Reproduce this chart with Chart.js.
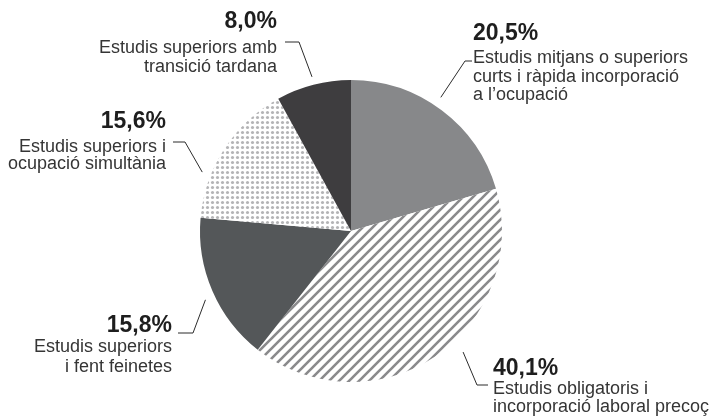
<!DOCTYPE html>
<html>
<head>
<meta charset="utf-8">
<script src="https://cdn.jsdelivr.net/npm/chart.js@4.4.0/dist/chart.umd.min.js"></script>
<style>
  body { margin: 0; background: #fff; }
  #wrap { width: 714px; height: 419px; }
</style>
</head>
<body>
<div id="wrap"><canvas id="pieChart" width="714" height="419"></canvas></div>
<script>
// dades
const percentLabels = ['20,5%', '40,1%', '15,8%', '15,6%', '8,0%'];
const shares = [20.5, 40.1, 15.8, 15.6, 8.0];
const descriptions = [
    ['Estudis mitjans o superiors', 'curts i ràpida incorporació', 'a l\u2019ocupació'],
    ['Estudis obligatoris i', 'incorporació laboral precoç'],
    ['Estudis superiors', 'i fent feinetes'],
    ['Estudis superiors i', 'ocupació simultània'],
    ['Estudis superiors amb', 'transició tardana']
];

// patrons
function stripePattern() {
    const c = document.createElement('canvas');
    c.width = 10; c.height = 10;
    const g = c.getContext('2d');
    g.fillStyle = '#fff';
    g.fillRect(0, 0, 10, 10);
    g.strokeStyle = '#8a8a8c';
    g.lineWidth = 2.6;
    g.beginPath();
    g.moveTo(-2, 12); g.lineTo(12, -2);
    g.moveTo(-7, 7); g.lineTo(7, -7);
    g.moveTo(3, 17); g.lineTo(17, 3);
    g.stroke();
    return g.createPattern(c, 'repeat');
}
function dotPattern() {
    const c = document.createElement('canvas');
    c.width = 5; c.height = 5;
    const g = c.getContext('2d');
    g.fillStyle = '#fff';
    g.fillRect(0, 0, 5, 5);
    g.fillStyle = '#b4b4b6';
    g.beginPath();
    g.arc(2.5, 2.5, 1.55, 0, Math.PI * 2);
    g.fill();
    return g.createPattern(c, 'repeat');
}

// on va cada etiqueta (angle de la línia en graus des de dalt, resta relatiu al centre)
const labelLayout = [
    { ang: 33.9, r: 10, elbow: [114, -170], end: [121, -170], align: 'left', x: 122, boldY: -191, textY: -168, lh: 18.5 },
    { ang: 137.2, r: 14, elbow: [126, 154], end: [137, 154], align: 'left', x: 142, boldY: 144, textY: 163, lh: 18 },
    { ang: 244.7, r: 10, elbow: [-158, 102], end: [-173, 102], align: 'right', x: -179, boldY: 101, textY: 121, lh: 20 },
    { ang: 291.6, r: 9, elbow: [-166, -89], end: [-178, -89], align: 'right', x: -185, boldY: -103, textY: -79, lh: 17 },
    { ang: 345.8, r: 8, elbow: [-52, -189], end: [-66, -189], align: 'right', x: -74, boldY: -203, textY: -178, lh: 18.5 }
];

const calloutPlugin = {
    id: 'callouts',
    afterDatasetsDraw(chart) {
        const ctx = chart.ctx;
        const arcs = chart.getDatasetMeta(0).data;
        ctx.save();
        arcs.forEach((arc, i) => {
            const p = arc.getProps(['x', 'y', 'outerRadius'], true);
            const L = labelLayout[i];
            const a = L.ang * Math.PI / 180;
            const r = p.outerRadius + L.r;
            ctx.strokeStyle = '#2b2b2b';
            ctx.lineWidth = 1;
            ctx.beginPath();
            ctx.moveTo(p.x + r * Math.sin(a), p.y - r * Math.cos(a));
            ctx.lineTo(p.x + L.elbow[0], p.y + L.elbow[1]);
            ctx.lineTo(p.x + L.end[0], p.y + L.end[1]);
            ctx.stroke();

            ctx.textAlign = L.align;
            ctx.textBaseline = 'alphabetic';
            ctx.fillStyle = '#1e1e1e';
            ctx.font = 'bold 23px "Liberation Sans Narrow", "Liberation Sans", sans-serif';
            ctx.fillText(percentLabels[i], p.x + L.x, p.y + L.boldY);
            ctx.fillStyle = '#353535';
            ctx.font = '18px "Liberation Sans", Arial, sans-serif';
            descriptions[i].forEach((line, j) => {
                ctx.fillText(line, p.x + L.x, p.y + L.textY + j * L.lh);
            });
        });
        ctx.restore();
    }
};

const ctx = document.getElementById('pieChart').getContext('2d');
const pieChart = new Chart(ctx, {
    type: 'pie',
    data: {
        labels: descriptions.map(d => d.join(' ')),
        datasets: [{
            data: shares,
            backgroundColor: ['#87888a', stripePattern(), '#545759', dotPattern(), '#3e3d3f'],
            borderWidth: 0
        }]
    },
    options: {
        responsive: false,
        animation: false,
        layout: { padding: { top: 80, bottom: 37, left: 200, right: 212 } },
        plugins: {
            legend: { display: false },
            tooltip: { enabled: false }
        }
    },
    plugins: [calloutPlugin]
});
</script>
</body>
</html>
